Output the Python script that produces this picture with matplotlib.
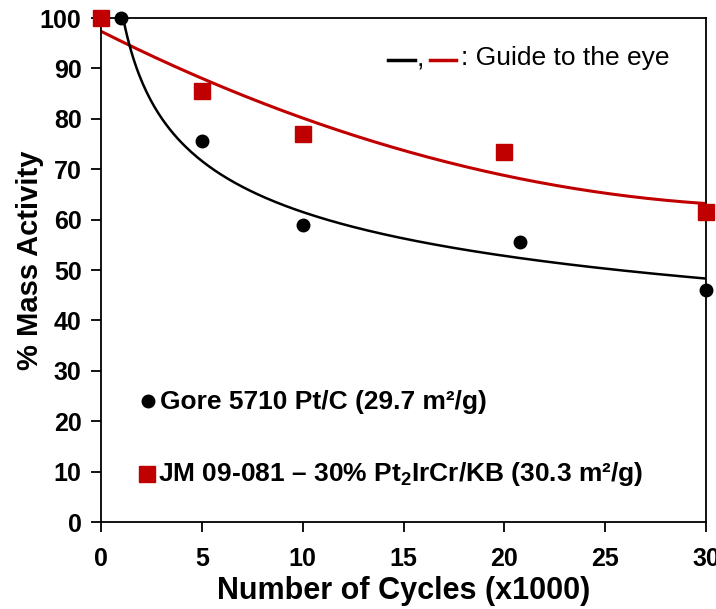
import numpy as np
import matplotlib.pyplot as plt
from matplotlib.lines import Line2D

plt.rcParams['font.family'] = ['Liberation Sans', 'DejaVu Sans']
plt.rcParams['mathtext.fontset'] = 'custom'
plt.rcParams['mathtext.rm'] = 'Liberation Sans'
plt.rcParams['mathtext.bf'] = 'Liberation Sans:bold'

# data
gore_x = [1, 5, 10, 20.8, 30]
gore_y = [100, 75.5, 59, 55.5, 46]
jm_x = [0, 5, 10, 20, 30]
jm_y = [100, 85.5, 77, 73.5, 61.5]

xticks = [0, 5, 10, 15, 20, 25, 30]
yticks = [0, 10, 20, 30, 40, 50, 60, 70, 80, 90, 100]

RED = '#C00000'

# guide-to-the-eye curves: power fit (black) and 2nd order poly (red)
b, a = np.polyfit(np.log(gore_x), np.log(gore_y), 1)
xs_g = np.linspace(min(gore_x), max(gore_x), 300)
ys_g = np.exp(a) * xs_g ** b
p = np.polyfit(jm_x, jm_y, 2)
xs_j = np.linspace(min(jm_x), max(jm_x), 300)
ys_j = np.polyval(p, xs_j)

fig = plt.figure(figsize=(7.16, 6.09), dpi=100)
ax = fig.add_axes([101 / 716, 1 - 522 / 609, 605 / 716, 504 / 609])

ax.plot(xs_j, ys_j, color=RED, lw=2.2)
ax.plot(xs_g, ys_g, color='black', lw=1.8)
ax.plot(jm_x, jm_y, 's', color=RED, ms=12, clip_on=False, zorder=5)
ax.plot(gore_x, gore_y, 'o', color='black', ms=9, clip_on=False, zorder=5)

ax.set_xlim(0, 30)
ax.set_ylim(0, 100)
ax.set_xticks(xticks)
ax.set_yticks(yticks)
ax.tick_params(direction='out', length=7, width=1.3, labelsize=18)
ax.tick_params(axis='x', pad=11)
ax.tick_params(axis='y', pad=7)
for lab in ax.get_xticklabels() + ax.get_yticklabels():
    lab.set_fontweight('bold')
for s in ax.spines.values():
    s.set_linewidth(1.3)

ax.set_xlabel('Number of Cycles (x1000)', fontsize=22, fontweight='bold')
ax.set_ylabel('% Mass Activity', fontsize=21, fontweight='bold')
ax.xaxis.set_label_coords(0.5, -0.107)
ax.yaxis.set_label_coords(-0.094, 0.52)

# guide-to-the-eye note
tr = ax.transAxes
ax.add_line(Line2D([0.474, 0.519], [0.917, 0.917], transform=tr, color='black', lw=2.5))
ax.text(0.521, 0.917, ',', transform=tr, fontsize=19, va='center')
ax.add_line(Line2D([0.544, 0.587], [0.917, 0.917], transform=tr, color=RED, lw=2.5))
ax.text(0.595, 0.92, ': Guide to the eye', transform=tr, fontsize=19, va='center')

# series labels
ax.plot([0.078], [0.240], 'o', color='black', ms=9, transform=tr)
ax.text(0.097, 0.238, 'Gore 5710 Pt/C (29.7 m\u00b2/g)', transform=tr,
        fontsize=19, fontweight='bold', va='center')
ax.plot([0.076], [0.095], 's', color=RED, ms=11, transform=tr)
ax.text(0.094, 0.095, 'JM 09-081 \u2013 30% Pt$_\\mathbf{2}$IrCr/KB (30.3 m\u00b2/g)',
        transform=tr, fontsize=19, fontweight='bold', va='center')

fig.savefig('out.png', dpi=100)
